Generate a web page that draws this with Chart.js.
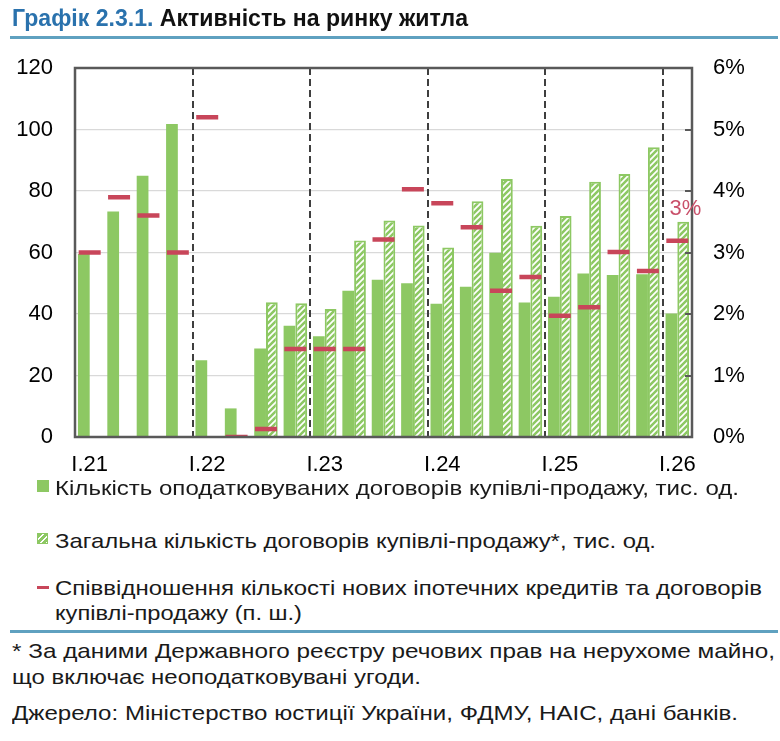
<!DOCTYPE html>
<html>
<head>
<meta charset="utf-8">
<script src="https://cdn.jsdelivr.net/npm/chart.js@4"></script>
<style>
  html,body{margin:0;padding:0;background:#fff;}
  body{width:780px;height:741px;position:relative;overflow:hidden;font-family:"Liberation Sans Narrow","Liberation Sans",Arial,sans-serif;color:#1a1a1a;}
  #c{position:absolute;left:0;top:0;}
  .t{position:absolute;white-space:nowrap;display:inline-block;line-height:1;transform-origin:0 50%;}
  .rule{position:absolute;left:10px;width:768px;height:3px;background:#5fa1c0;}
  .ico{position:absolute;}
</style>
</head>
<body>
<canvas id="c" width="780" height="480"></canvas>

<div class="t" data-w="456" style="left:12px;top:7px;font-size:23px;font-weight:bold;color:#111;"><span style="color:#2a72ad">Графік 2.3.1.</span> Активність на ринку житла</div>
<div class="rule" style="top:36px;"></div>

<div class="ico" style="left:37px;top:480px;width:12px;height:12px;background:#8dc863;"></div>
<div class="t" data-w="684" style="left:55px;top:477px;font-size:21px;">Кількість оподатковуваних договорів купівлі-продажу, тис. од.</div>

<div class="ico" style="left:37px;top:533px;width:9px;height:9px;border:1.5px solid #8dc863;background:repeating-linear-gradient(135deg,#8dc863 0 3px,#fff 3px 4.5px);"></div>
<div class="t" data-w="601" style="left:55px;top:530px;font-size:21px;">Загальна кількість договорів купівлі-продажу*, тис. од.</div>

<div class="ico" style="left:37px;top:586px;width:12px;height:3px;background:#c8465a;"></div>
<div class="t" data-w="707" style="left:55px;top:577px;font-size:21px;">Співвідношення кількості нових іпотечних кредитів та договорів</div>
<div class="t" data-w="247" style="left:55px;top:602px;font-size:21px;">купівлі-продажу (п. ш.)</div>

<div class="rule" style="top:630px;"></div>
<div class="t" data-w="763" style="left:12px;top:640px;font-size:21px;">* За даними Державного реєстру речових прав на нерухоме майно,</div>
<div class="t" data-w="409" style="left:12px;top:666px;font-size:21px;">що включає неоподатковувані угоди.</div>
<div class="t" data-w="726" style="left:12px;top:702px;font-size:21px;">Джерело: Міністерство юстиції України, ФДМУ, НАІС, дані банків.</div>

<script>
// ---- data ----
const categories = ['I.21','II.21','III.21','IV.21','I.22','II.22','III.22','IV.22','I.23','II.23','III.23','IV.23','I.24','II.24','III.24','IV.24','I.25','II.25','III.25','IV.25','I.26'];
const taxableContracts = [59.5, 73.3, 85.0, 101.8, 25.0, 9.3, 28.8, 36.2, 32.8, 47.6, 51.1, 50.0, 43.3, 48.9, 59.9, 43.7, 45.6, 53.2, 52.7, 52.9, 40.2];
const totalContracts = [null, null, null, null, null, null, 43.8, 43.5, 41.6, 63.9, 70.4, 68.8, 61.6, 76.7, 83.9, 68.7, 71.9, 83.0, 85.5, 94.2, 70.0];
const mortgageRatio = [3.0, 3.9, 3.6, 3.0, 5.2, 0.0, 0.13, 1.43, 1.43, 1.43, 3.21, 4.03, 3.80, 3.41, 2.38, 2.60, 1.97, 2.11, 3.01, 2.70, 3.19];
const leftTicks = {min:0, max:120, step:20};
const rightTicks = {min:0, max:6, step:1};

// ---- styles ----
const GREEN = '#8dc863';
const RED = '#c8465a';
const FONT = 'Liberation Sans';

function hatchPattern(){
  const s = 6;
  const c = document.createElement('canvas'); c.width = s; c.height = s;
  const g = c.getContext('2d');
  g.fillStyle = GREEN; g.fillRect(0,0,s,s);
  g.strokeStyle = '#ffffff'; g.lineWidth = 1.7;
  g.beginPath();
  g.moveTo(0,s); g.lineTo(s,0);
  g.moveTo(-2,2); g.lineTo(2,-2);
  g.moveTo(s-2,s+2); g.lineTo(s+2,s-2);
  g.stroke();
  return g.createPattern(c,'repeat');
}

const decor = {
  id:'decor',
  afterDatasetsDraw(chart){
    const {ctx, chartArea:a, scales} = chart;
    const x = scales.x, y1 = scales.y1;
    ctx.save();
    // year separators
    ctx.strokeStyle = '#3f3f3f'; ctx.lineWidth = 2; ctx.setLineDash([7,4]);
    for(let i=4;i<categories.length;i+=4){
      const px = Math.round((x.getPixelForValue(i-1)+x.getPixelForValue(i))/2);
      ctx.beginPath(); ctx.moveTo(px, a.top); ctx.lineTo(px, a.bottom); ctx.stroke();
    }
    ctx.setLineDash([]);
    // frame
    ctx.strokeStyle = '#595959'; ctx.lineWidth = 2.5;
    ctx.strokeRect(a.left, a.top, a.right-a.left, a.bottom-a.top);
    // inward ticks on right axis
    ctx.lineWidth = 2;
    for(let v=rightTicks.min+rightTicks.step; v<rightTicks.max; v+=rightTicks.step){
      const py = Math.round(y1.getPixelForValue(v));
      ctx.beginPath(); ctx.moveTo(a.right-7, py); ctx.lineTo(a.right, py); ctx.stroke();
    }
    ctx.restore();
  },
  afterDraw(chart){
    const {ctx} = chart;
    const meta = chart.getDatasetMeta(2);
    const last = meta.data[meta.data.length-1];
    const val = mortgageRatio[mortgageRatio.length-1];
    ctx.save();
    ctx.fillStyle = '#c9506a';
    ctx.font = '22px "'+FONT+'"';
    ctx.textAlign = 'center'; ctx.textBaseline = 'middle';
    ctx.fillText(Math.round(val)+'%', last.x+8, last.y-32);
    ctx.restore();
  }
};

const tickFont = {family: FONT, size: 22};

new Chart(document.getElementById('c'), {
  data: {
    labels: categories,
    datasets: [
      {type:'bar', label:'Кількість оподатковуваних договорів купівлі-продажу, тис. од.', data: taxableContracts, backgroundColor: GREEN, borderWidth:0, yAxisID:'y', order:2, categoryPercentage:0.8, barPercentage:1.0},
      {type:'bar', label:'Загальна кількість договорів купівлі-продажу*, тис. од.', data: totalContracts, backgroundColor: hatchPattern(), borderColor: GREEN, borderWidth:2, borderSkipped:'start', yAxisID:'y', order:2, categoryPercentage:0.8, barPercentage:1.0},
      {type:'line', label:'Співвідношення кількості нових іпотечних кредитів та договорів купівлі-продажу (п. ш.)', data: mortgageRatio, yAxisID:'y1', showLine:false, pointStyle:'line', pointRadius:11, pointHoverRadius:11, pointBorderWidth:4.5, pointBorderColor:RED, pointBackgroundColor:RED, borderColor:RED, order:0}
    ]
  },
  options: {
    responsive:false, animation:false,
    layout:{padding:{top:68, left:0, right:0, bottom:0}},
    plugins:{legend:{display:false}, tooltip:{enabled:false}},
    scales:{
      x:{type:'category', offset:true,
         grid:{display:false, drawTicks:false}, border:{display:false},
         ticks:{autoSkip:false, maxRotation:0, minRotation:0, padding:15, color:'#000', font:tickFont,
                callback:(v,i)=> i%4===0 ? categories[i] : ''},
         afterFit:s=>{s.height=43;}},
      y:{position:'left', min:leftTicks.min, max:leftTicks.max,
         ticks:{stepSize:leftTicks.step, padding:22, color:'#000', font:tickFont},
         grid:{color:'#d9d9d9', lineWidth:1.3, drawTicks:false}, border:{display:false},
         afterFit:s=>{s.width=75;}},
      y1:{position:'right', min:rightTicks.min, max:rightTicks.max,
         ticks:{stepSize:rightTicks.step, padding:21, color:'#000', font:tickFont, callback:v=>v+'%'},
         grid:{display:false, drawTicks:false}, border:{display:false},
         afterFit:s=>{s.width=88;}}
    }
  },
  plugins:[decor]
});

// fit html texts to their reference widths
document.querySelectorAll('[data-w]').forEach(el=>{
  const w = el.getBoundingClientRect().width;
  const t = +el.dataset.w;
  if(w>0) el.style.transform = 'scaleX('+(t/w)+')';
});
</script>
</body>
</html>
